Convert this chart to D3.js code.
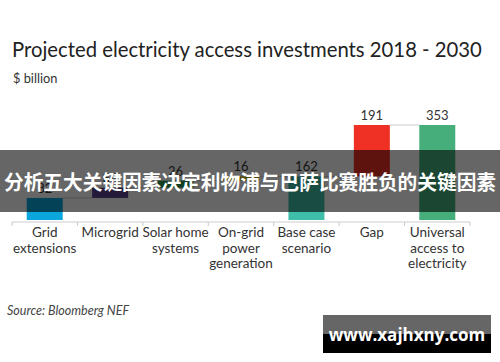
<!DOCTYPE html>
<html>
<head>
<meta charset="utf-8">
<script src="https://cdn.jsdelivr.net/npm/d3@7"></script>
<style>
  body { margin: 0; background: #fff; }
  svg { display: block; }
</style>
</head>
<body>
<div id="chart"></div>
<script>
// waterfall data
const categories = ['Grid extensions', 'Microgrid', 'Solar home systems', 'On-grid power generation', 'Base case scenario', 'Gap', 'Universal access to electricity'];
const values = [82, 38, 26, 16, 162, 191, 353];
const isTotal = [false, false, false, false, true, false, true];
const labelLines = [['Grid', 'extensions'], ['Microgrid'], ['Solar home', 'systems'], ['On-grid', 'power', 'generation'], ['Base case', 'scenario'], ['Gap'], ['Universal', 'access to', 'electricity']];
const colors = ['#0aa6dc', '#5b3f8e', '#2f9c5b', '#c9b300', '#3fbfa9', '#ee3124', '#45ae7b'];

const width = 500, height = 362;
const base = 220;

const svg = d3.select('#chart').append('svg')
  .attr('width', width)
  .attr('height', height);

// compute start/end of each step
let run = 0;
const bars = categories.map((c, i) => {
  let y0, y1;
  if (isTotal[i]) { y0 = 0; y1 = values[i]; run = values[i]; }
  else { y0 = run; y1 = run + values[i]; run = y1; }
  return { cat: c, y0, y1, v: values[i], color: colors[i], lines: labelLines[i] };
});

const x = d3.scaleBand()
  .domain(categories)
  .range([12, 470]);

const y = d3.scaleLinear()
  .domain([0, 353])
  .range([base, 125]);

const barW = x.bandwidth() * 0.55;
const barX = d => x(d.cat) + (x.bandwidth() - barW) / 2;

// title
svg.append('text')
  .attr('x', 12).attr('y', 57)
  .style('font-family', 'Lato, sans-serif')
  .style('font-size', '20.3px')
  .attr('fill', '#222')
  .text('Projected electricity access investments 2018 - 2030');

svg.append('text')
  .attr('x', 13).attr('y', 83)
  .style('font-family', 'Lato, sans-serif')
  .style('font-size', '12.8px')
  .attr('fill', '#333')
  .text('$ billion');

// connector lines between steps
svg.append('g').selectAll('line')
  .data(bars.slice(0, -1))
  .join('line')
  .attr('x1', d => barX(d) + barW)
  .attr('x2', (d, i) => barX(bars[i + 1]))
  .attr('y1', d => y(d.y1))
  .attr('y2', d => y(d.y1))
  .attr('stroke', '#ccc')
  .attr('stroke-width', 1);

// bars
svg.append('g').selectAll('rect')
  .data(bars)
  .join('rect')
  .attr('x', barX)
  .attr('width', barW)
  .attr('y', d => y(d.y1))
  .attr('height', d => y(d.y0) - y(d.y1))
  .attr('fill', d => d.color);

// value labels
svg.append('g').selectAll('text')
  .data(bars)
  .join('text')
  .attr('x', d => x(d.cat) + x.bandwidth() / 2)
  .attr('y', d => y(d.y1) - 5)
  .attr('text-anchor', 'middle')
  .style('font-family', 'Lato, sans-serif')
  .style('font-size', '13px')
  .attr('fill', '#333')
  .text(d => d.v);

// x axis line and ticks at band edges
const axisY = base + 2;
svg.append('line')
  .attr('x1', 12).attr('x2', 470)
  .attr('y1', axisY).attr('y2', axisY)
  .attr('stroke', '#ccc');

svg.append('g').selectAll('line')
  .data(categories.concat(['end']))
  .join('line')
  .attr('x1', (d, i) => i < categories.length ? x(d) : x.range()[1])
  .attr('x2', (d, i) => i < categories.length ? x(d) : x.range()[1])
  .attr('y1', axisY).attr('y2', axisY + 4)
  .attr('stroke', '#ccc');

// category labels
const lab = svg.append('g').selectAll('text')
  .data(bars)
  .join('text')
  .attr('text-anchor', 'middle')
  .style('font-family', 'Lato, sans-serif')
  .style('font-size', '13.5px')
  .attr('fill', '#333');

lab.selectAll('tspan')
  .data(d => d.lines.map(l => ({ l, cx: x(d.cat) + x.bandwidth() / 2 })))
  .join('tspan')
  .attr('x', d => d.cx)
  .attr('y', (d, i) => 237 + i * 15.5)
  .text(d => d.l);

// source
svg.append('text')
  .attr('x', 7).attr('y', 315)
  .style('font-family', 'Lato, sans-serif')
  .style('font-size', '12.5px')
  .style('font-style', 'italic')
  .attr('fill', '#444')
  .text('Source: Bloomberg NEF');

// overlay banner
svg.append('rect')
  .attr('x', 0).attr('y', 150)
  .attr('width', width).attr('height', 62)
  .attr('fill', 'rgba(0,0,0,0.6)');

svg.append('text')
  .attr('x', 250).attr('y', 190)
  .attr('text-anchor', 'middle')
  .attr('textLength', 492)
  .attr('lengthAdjust', 'spacingAndGlyphs')
  .style('font-family', '"Noto Sans CJK SC", sans-serif')
  .style('font-size', '20px')
  .style('font-weight', 'bold')
  .attr('fill', '#fff')
  .text('分析五大关键因素决定利物浦与巴萨比赛胜负的关键因素');

// watermark
svg.append('rect')
  .attr('x', 323).attr('y', 315)
  .attr('width', 168).attr('height', 38)
  .attr('fill', '#000');
svg.append('rect')
  .attr('x', 323).attr('y', 315)
  .attr('width', 168).attr('height', 19)
  .attr('fill', '#666');
svg.append('text')
  .attr('x', 407).attr('y', 341)
  .attr('text-anchor', 'middle')
  .style('font-family', '"Open Sans", sans-serif')
  .style('font-size', '17px')
  .style('font-weight', 'bold')
  .attr('fill', '#fff')
  .text('www.xajhxny.com');
</script>
</body>
</html>
